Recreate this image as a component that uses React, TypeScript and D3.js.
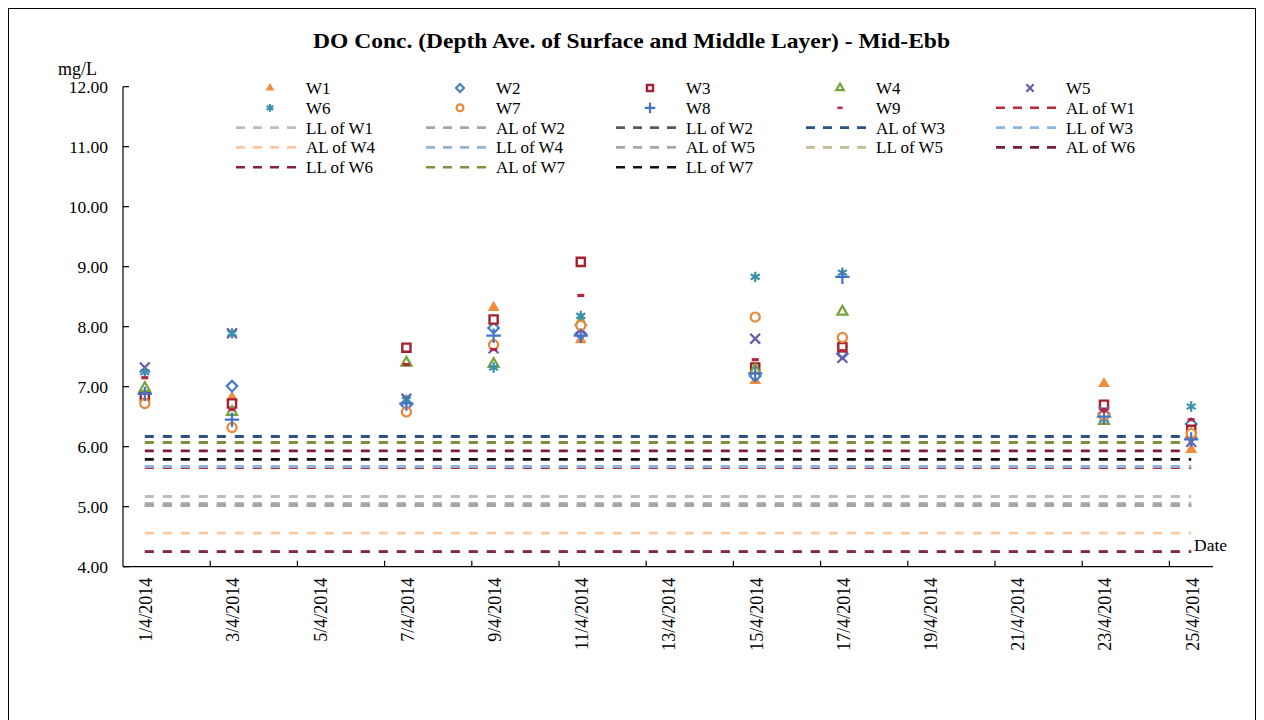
import React, { useEffect, useRef } from 'react';
import * as d3 from 'd3';

// sampling dates (mid-ebb)
const sampleDates = ['1/4/2014', '3/4/2014', '7/4/2014', '9/4/2014', '11/4/2014', '15/4/2014', '17/4/2014', '23/4/2014', '25/4/2014'];

// DO values, mg/L, per station
const W1 = [6.95, 6.82, 6.60, 8.32, 7.78, 7.10, 7.72, 7.05, 5.95];
const W2 = [6.90, 7.01, 6.70, 7.98, 7.88, 7.18, 7.55, 6.55, 6.38];
const W3 = [6.85, 6.72, 7.65, 8.12, 9.08, 7.32, 7.66, 6.70, 6.28];
const W4 = [6.98, 6.58, 7.40, 7.38, 8.08, 7.28, 8.25, 6.43, 6.20];
const W5 = [7.32, 7.89, 6.80, 7.64, 7.95, 7.80, 7.48, 6.58, 6.08];
const W6 = [7.24, 7.89, 6.78, 7.32, 8.18, 8.83, 8.90, 6.46, 6.67];
const W7 = [6.72, 6.32, 6.58, 7.70, 8.02, 8.16, 7.82, 6.52, 6.22];
const W8 = [6.88, 6.45, 6.72, 7.85, 7.85, 7.22, 8.83, 6.50, 6.12];
const W9 = [7.15, 6.62, 7.37, 7.62, 8.52, 7.45, 7.60, 6.60, 6.45];

const stationNames = ['W1', 'W2', 'W3', 'W4', 'W5', 'W6', 'W7', 'W8', 'W9'];
const stationValues = [W1, W2, W3, W4, W5, W6, W7, W8, W9];

// action / limit levels
const levelNames = ['AL of W1', 'LL of W1', 'AL of W2', 'LL of W2', 'AL of W3', 'LL of W3', 'AL of W4', 'LL of W4', 'AL of W5', 'LL of W5', 'AL of W6', 'LL of W6', 'AL of W7', 'LL of W7'];
const levelValues = [5.65, 5.17, 5.05, 5.02, 6.17, 5.67, 4.56, 4.25, 5.02, 6.07, 5.93, 4.25, 6.07, 5.79];

const yTicks = [4, 5, 6, 7, 8, 9, 10, 11, 12];
const xTickLabels = ['1/4/2014', '3/4/2014', '5/4/2014', '7/4/2014', '9/4/2014', '11/4/2014', '13/4/2014', '15/4/2014', '17/4/2014', '19/4/2014', '21/4/2014', '23/4/2014', '25/4/2014'];

const stationColors = ['#F08C3C', '#4A7EC0', '#A3222E', '#74A33A', '#6A5AA8', '#3A90A8', '#E58A3A', '#4472C4', '#B3283E'];
const levelColors = ['#C0263A', '#BDBDBD', '#A6A6A6', '#595959', '#2B5283', '#8DB4E2', '#FAC8A0', '#95B3D7', '#A6A6A6', '#C4BD97', '#7A1E32', '#8B2040', '#77933C', '#111111'];

const FONT = '"Liberation Serif", "Times New Roman", serif';

const App: React.FC = () => {
  const svgRef = useRef<SVGSVGElement>(null);

  useEffect(() => {
    if (!svgRef.current) return;
    const svg = d3.select(svgRef.current);
    svg.selectAll('*').remove();

    const left = 123, right = 1213, top = 86.7, bottom = 566.7;

    const days = d3.range(1, 26).map(d => `${d}/4/2014`);
    const x = d3.scaleBand<string>().domain(days).range([left, right]).padding(0);
    const cx = (d: string) => (x(d) as number) + x.bandwidth() / 2;
    const y = d3.scaleLinear().domain([4, 12]).range([bottom, top]);

    svg.append('rect').attr('width', 1264).attr('height', 720).attr('fill', '#fff');
    svg.append('rect')
      .attr('x', 8.5).attr('y', 8.5).attr('width', 1247).attr('height', 730)
      .attr('fill', 'none').attr('stroke', '#000').attr('stroke-width', 1);

    // title
    svg.append('text')
      .attr('x', 313).attr('y', 48)
      .attr('textLength', 637).attr('lengthAdjust', 'spacingAndGlyphs')
      .style('font-family', FONT).attr('font-weight', 'bold').attr('font-size', 21)
      .text('DO Conc. (Depth Ave. of Surface and Middle Layer) - Mid-Ebb');

    svg.append('text')
      .attr('x', 58).attr('y', 75)
      .style('font-family', FONT).attr('font-size', 18)
      .text('mg/L');

    // axes
    const ax = svg.append('g').attr('stroke', '#000').attr('stroke-width', 1.2);
    ax.append('line').attr('x1', left).attr('x2', left).attr('y1', top).attr('y2', bottom);
    ax.append('line').attr('x1', left).attr('x2', right).attr('y1', bottom).attr('y2', bottom);
    yTicks.forEach(t => {
      ax.append('line').attr('x1', left).attr('x2', left + 6).attr('y1', y(t)).attr('y2', y(t));
    });
    days.filter((d, i) => i > 0 && i % 2 === 0).forEach(d => {
      ax.append('line').attr('x1', x(d) as number).attr('x2', x(d) as number).attr('y1', bottom).attr('y2', bottom - 6);
    });

    svg.append('g').selectAll('text').data(yTicks).enter().append('text')
      .attr('x', 108).attr('y', d => y(d))
      .attr('dy', '0.35em')
      .attr('text-anchor', 'end')
      .style('font-family', FONT).attr('font-size', 17.5)
      .text(d => d3.format('.2f')(d));

    svg.append('g').selectAll('text').data(xTickLabels).enter().append('text')
      .attr('transform', d => `translate(${cx(d) + 1},${bottom + 11}) rotate(-90)`)
      .attr('dy', '0.35em')
      .attr('text-anchor', 'end')
      .style('font-family', FONT).attr('font-size', 18)
      .text(d => d);

    svg.append('text')
      .attr('x', 1194).attr('y', 551)
      .style('font-family', FONT).attr('font-size', 17.5)
      .text('Date');

    // level lines
    const line = d3.line<string>().x(d => cx(d));
    const lg = svg.append('g');
    levelValues.forEach((v, i) => {
      lg.append('path')
        .attr('d', line.y(() => y(v))([sampleDates[0], sampleDates[sampleDates.length - 1]]) as string)
        .attr('fill', 'none')
        .attr('stroke', levelColors[i])
        .attr('stroke-width', 2.8)
        .attr('stroke-dasharray', '9,9');
    });

    // markers
    const drawMarker = (g: d3.Selection<SVGGElement, unknown, null, undefined>, k: number, px: number, py: number, s: number) => {
      const c = stationColors[k];
      const sym = (type: d3.SymbolType, size: number) => d3.symbol().type(type).size(size * s * s)() as string;
      const t = `translate(${px},${py})`;
      if (k === 0) g.append('path').attr('d', sym(d3.symbolTriangle, 60)).attr('transform', t).attr('fill', c);
      else if (k === 1) g.append('path').attr('d', sym(d3.symbolDiamond2, 72)).attr('transform', t).attr('fill', '#fff').attr('stroke', c).attr('stroke-width', 2.2);
      else if (k === 2) g.append('path').attr('d', sym(d3.symbolSquare2, 85)).attr('transform', t).attr('fill', '#fff').attr('stroke', c).attr('stroke-width', 2.4);
      else if (k === 3) g.append('path').attr('d', sym(d3.symbolTriangle2, 72)).attr('transform', t).attr('fill', '#fff').attr('stroke', c).attr('stroke-width', 2.2);
      else if (k === 4) g.append('path').attr('d', sym(d3.symbolTimes, 65)).attr('transform', t).attr('fill', 'none').attr('stroke', c).attr('stroke-width', 2.2);
      else if (k === 5) g.append('path').attr('d', sym(d3.symbolAsterisk, 75)).attr('transform', t).attr('fill', 'none').attr('stroke', c).attr('stroke-width', 2.2);
      else if (k === 6) g.append('path').attr('d', sym(d3.symbolCircle, 66)).attr('transform', t).attr('fill', '#fff').attr('stroke', c).attr('stroke-width', 2.2);
      else if (k === 7) g.append('path').attr('d', sym(d3.symbolPlus, 70)).attr('transform', t).attr('fill', 'none').attr('stroke', c).attr('stroke-width', 2.2);
      else g.append('rect').attr('x', px - 3.5 * s).attr('y', py - 1.6 * s).attr('width', 7 * s).attr('height', 3.2 * s).attr('fill', c);
    };

    const mg = svg.append('g');
    stationValues.forEach((vals, k) => {
      vals.forEach((v, i) => drawMarker(mg, k, cx(sampleDates[i]), y(v), 1));
    });

    // legend
    const legendItems = [...stationNames, ...levelNames];
    const leg = svg.append('g');
    legendItems.forEach((name, i) => {
      const col = i % 5, row = Math.floor(i / 5);
      const tx = 306 + col * 190;
      const ty = 88 + row * 19.8;
      if (i < stationNames.length) {
        drawMarker(leg, i, tx - 36, ty, 0.75);
      } else {
        const li = i - stationNames.length;
        leg.append('line')
          .attr('x1', tx - 70).attr('x2', tx - 6).attr('y1', ty).attr('y2', ty)
          .attr('stroke', levelColors[li]).attr('stroke-width', 2.6)
          .attr('stroke-dasharray', '9,8');
      }
      leg.append('text')
        .attr('x', tx).attr('y', ty).attr('dy', '0.35em')
        .style('font-family', FONT).attr('font-size', 17)
        .text(name);
    });
  }, []);

  return (
    <svg ref={svgRef} width={1264} height={720} style={{ position: 'absolute', left: 0, top: 0 }} />
  );
};

export default App;
